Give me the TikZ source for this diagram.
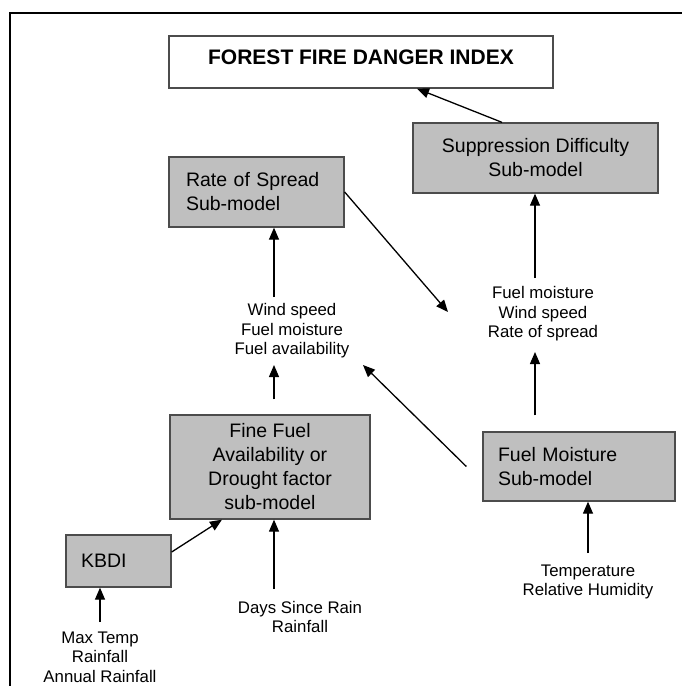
\documentclass[tikz,border=0pt]{standalone}
\usepackage{fontspec}
\setmainfont{Liberation Sans}
\usepackage{tikz}
\usetikzlibrary{positioning,arrows.meta}

\begin{document}
\begin{tikzpicture}[x=1pt,y=-1pt,
        submodel/.style={draw=black!70,line width=1.3pt,fill=black!25,inner sep=0pt,
                font=\fontsize{19.5}{24}\selectfont},
        inputs/.style={align=center,inner sep=0pt,font=\fontsize{16.8}{19.5}\selectfont},
        arr/.style={-{Triangle[length=12pt,width=10pt]},line width=1.3pt}]
        \useasboundingbox (0,0) rectangle (682,686);
        \draw[line width=2.5pt] (10,686) -- (10,13) -- (682,13);
        \node[draw=black!70,line width=1.3pt,minimum width=384pt,minimum height=52pt,inner sep=0pt,
                text depth=10pt,font=\fontsize{21}{24}\bfseries] (ffdi) at (361,62) {FOREST FIRE DANGER INDEX};
        \node[submodel,minimum width=245pt,minimum height=70pt,align=center] (supp) at (535.5,158)
                {Suppression Difficulty\\Sub-model};
        \node[submodel,minimum width=175pt,minimum height=70pt,text width=141pt,align=left] (ros) at (256.5,192)
                {Rate of Spread\\Sub-model};
        \node[submodel,minimum width=200pt,minimum height=104pt,align=center] (fine) at (270,467)
                {Fine Fuel\\Availability or\\Drought factor\\sub-model};
        \node[submodel,minimum width=192pt,minimum height=69pt,text width=162pt,align=left] (fm) at (579,466.5)
                {Fuel Moisture\\Sub-model};
        \node[submodel,minimum width=105pt,minimum height=52pt,text width=75pt,align=left] (kbdi) at (118.5,561)
                {KBDI};
        \node[inputs] (lblros) at (292,331) {Wind speed\\Fuel moisture\\Fuel availability};
        \node[inputs] (lblsupp) at (543,314) {Fuel moisture\\Wind speed\\Rate of spread};
        \node[inputs] (lblfine) at (300,617) {Days Since Rain\\Rainfall};
        \node[inputs] (lblkbdi) at (100,657) {Max Temp\\Rainfall\\Annual Rainfall};
        \node[inputs] (lblfm) at (588,582) {Temperature\\Relative Humidity};
        \coordinate (spreadin) at (274,297);
        \coordinate (availin) at (274,365);
        \coordinate (suppin) at (535,278);
        \coordinate (moistin) at (535,352);
        \coordinate (droughtin) at (274,589);
        \coordinate (kbdiin) at (100,622);
        \coordinate (humidin) at (588,553);
        \coordinate (rosend) at (448,312);
        \coordinate (fmend) at (363,365);
        \draw[arr] ([xshift=-33.5pt]supp.north) -- ([xshift=56pt]ffdi.south);
        \draw[arr] (ros.east) -- (rosend);
        \draw[arr] (spreadin) -- (spreadin |- ros.south);
        \draw[arr,shorten <=15pt] (availin |- fine.north) -- (availin);
        \draw[arr] ([xshift=-16pt]fm.west) -- (fmend);
        \draw[arr] (suppin) -- (suppin |- supp.south);
        \draw[arr,shorten <=16pt] (moistin |- fm.north) -- (moistin);
        \draw[arr] ([yshift=9pt]kbdi.east) -- ([xshift=-48pt]fine.south);
        \draw[arr] (droughtin) -- (droughtin |- fine.south);
        \draw[arr] (kbdiin) -- (kbdiin |- kbdi.south);
        \draw[arr] (humidin) -- (humidin |- fm.south);
\end{tikzpicture}
\end{document}
